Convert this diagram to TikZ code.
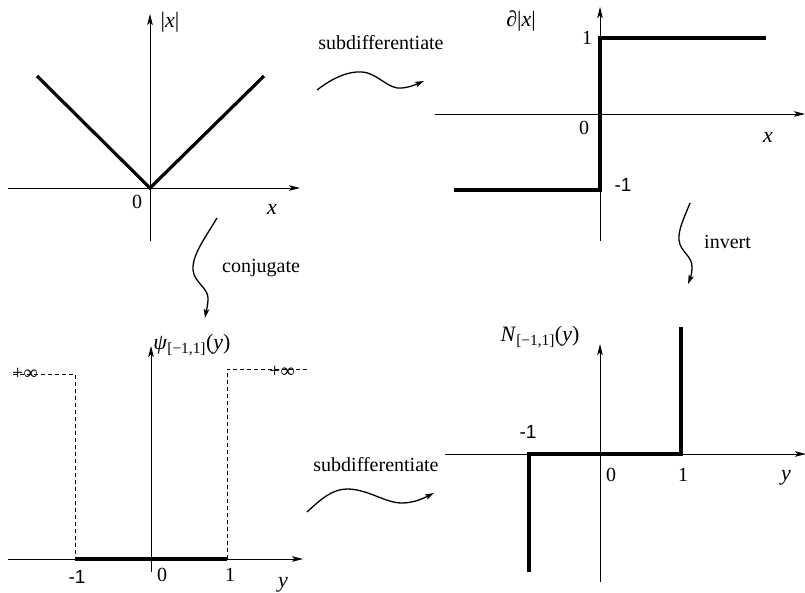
\documentclass[tikz,border=0pt]{standalone}
\usepackage{fontspec}
\setmainfont{Liberation Serif}
\newfontfamily\sansf{Liberation Sans}
\usetikzlibrary{arrows.meta}
\tikzset{
  axis/.style={line width=0.8pt,-{Stealth[length=11pt,width=5.5pt,inset=2.5pt]}},
  graphline/.style={line width=3.2pt,line join=miter},
  dashedline/.style={line width=0.8pt,dash pattern=on 4pt off 3pt},
  squig/.style={line width=1.3pt,-{Stealth[length=9pt,width=5.5pt,inset=2pt]}},
  lbl/.style={font=\fontsize{20}{24}\selectfont,inner sep=0pt},
  mlbl/.style={font=\fontsize{22}{26}\selectfont,inner sep=0pt},
  slbl/.style={font=\sansf\fontsize{19}{22}\selectfont,inner sep=0pt},
}
\begin{document}
\begin{tikzpicture}[x=1pt,y=-1pt]
\useasboundingbox (0,0) rectangle (805,592);
% ---------- panel 1: |x|
\coordinate (a1l) at (8,188); \coordinate (a1r) at (300,188);
\coordinate (a1b) at (150,241); \coordinate (a1t) at (150,14);
\draw[axis] (a1l) -- (a1r);
\draw[axis] (a1b) -- (a1t);
\coordinate (v1) at (37,76); \coordinate (v0) at (150,188); \coordinate (v2) at (264,76);
\draw[graphline] (v1) -- (v0) -- (v2);
\node[mlbl] (l1a) at (170,22) {|\textit{x}|};
\node[lbl] (l1b) at (137,202) {0};
\node[mlbl] (l1c) at (272,209) {\textit{x}};
% ---------- panel 2: subdifferential
\coordinate (a2l) at (435,114); \coordinate (a2r) at (805,114);
\coordinate (a2b) at (600,241); \coordinate (a2t) at (600,7);
\draw[axis] (a2l) -- (a2r);
\draw[axis] (a2b) -- (a2t);
\coordinate (s1) at (454,190); \coordinate (s2) at (600,190);
\coordinate (s3) at (600,38); \coordinate (s4) at (766,38);
\draw[graphline] (s1) -- (s2) -- (s3) -- (s4);
\node[mlbl] (l2a) at (521,21) {∂|\textit{x}|};
\node[lbl] (l2b) at (587,38) {1};
\node[lbl] (l2c) at (584,128) {0};
\node[mlbl] (l2d) at (768,137) {\textit{x}};
\node[slbl] (l2e) at (623,185) {-1};
% ---------- panel 3: indicator
\coordinate (a3l) at (8,559); \coordinate (a3r) at (303,559);
\coordinate (a3b) at (151,572); \coordinate (a3t) at (151,346);
\draw[axis] (a3l) -- (a3r);
\draw[axis] (a3b) -- (a3t);
\coordinate (d1) at (13,374); \coordinate (d2) at (75,374); \coordinate (d3) at (75,559);
\coordinate (d4) at (227,559); \coordinate (d5) at (227,369); \coordinate (d6) at (307,369);
\draw[dashedline] (d1) -- (d2) -- (d3);
\draw[dashedline] (d4) -- (d5) -- (d6);
\draw[graphline] (d3) -- (d4);
\node[lbl] (l3a) at (25,374) {+∞};
\node[lbl] (l3b) at (282,372) {+∞};
\node[mlbl] (l3c) at (192,345) {\textit{ψ}\textsubscript{[−1,1]}(\textit{y})};
\node[slbl] (l3d) at (77,577) {-1};
\node[lbl] (l3e) at (162,575) {0};
\node[lbl] (l3f) at (230,575) {1};
\node[mlbl] (l3g) at (283,585) {\textit{y}};
% ---------- panel 4: normal cone
\coordinate (a4l) at (445,454); \coordinate (a4r) at (806,454);
\coordinate (a4b) at (600,582); \coordinate (a4t) at (600,344);
\draw[axis] (a4l) -- (a4r);
\draw[axis] (a4b) -- (a4t);
\coordinate (n1) at (529,572); \coordinate (n2) at (529,454);
\coordinate (n3) at (681,454); \coordinate (n4) at (681,327);
\draw[graphline] (n1) -- (n2) -- (n3) -- (n4);
\node[mlbl] (l4a) at (540,337) {\textit{N}\textsubscript{[−1,1]}(\textit{y})};
\node[slbl] (l4b) at (528,432) {-1};
\node[lbl] (l4c) at (611,475) {0};
\node[lbl] (l4d) at (683,475) {1};
\node[mlbl] (l4e) at (786,478) {\textit{y}};
% ---------- transformation arrows
\node[lbl] (t1) at (381,43) {subdifferentiate};
\coordinate (q1s) at (317,90); \coordinate (q1e) at (424,81);
\draw[squig] (q1s) .. controls (330,80) and (346,71) .. (362,72)
  .. controls (378,73) and (388,90) .. (402,88)
  .. controls (411,87) and (417,84) .. (q1e);
\node[lbl,anchor=west] (t2) at (222,268) {conjugate};
\coordinate (q2s) at (217,218); \coordinate (q2e) at (205,318);
\draw[squig] (q2s) .. controls (205,238) and (192,255) .. (193,270)
  .. controls (194,282) and (208,288) .. (208,298)
  .. controls (208,306) and (206,312) .. (q2e);
\node[lbl,anchor=west] (t3) at (704,242) {invert};
\coordinate (q3s) at (690,203); \coordinate (q3e) at (688,284);
\draw[squig] (q3s) .. controls (684,218) and (678,230) .. (679,240)
  .. controls (680,252) and (693,256) .. (692,268)
  .. controls (692,274) and (690,279) .. (q3e);
\node[lbl] (t4) at (376,465) {subdifferentiate};
\coordinate (q4s) at (307,512); \coordinate (q4e) at (434,493);
\draw[squig] (q4s) .. controls (320,500) and (332,489) .. (347,489)
  .. controls (368,489) and (385,503) .. (402,503)
  .. controls (414,503) and (424,498) .. (q4e);
\end{tikzpicture}
\end{document}
